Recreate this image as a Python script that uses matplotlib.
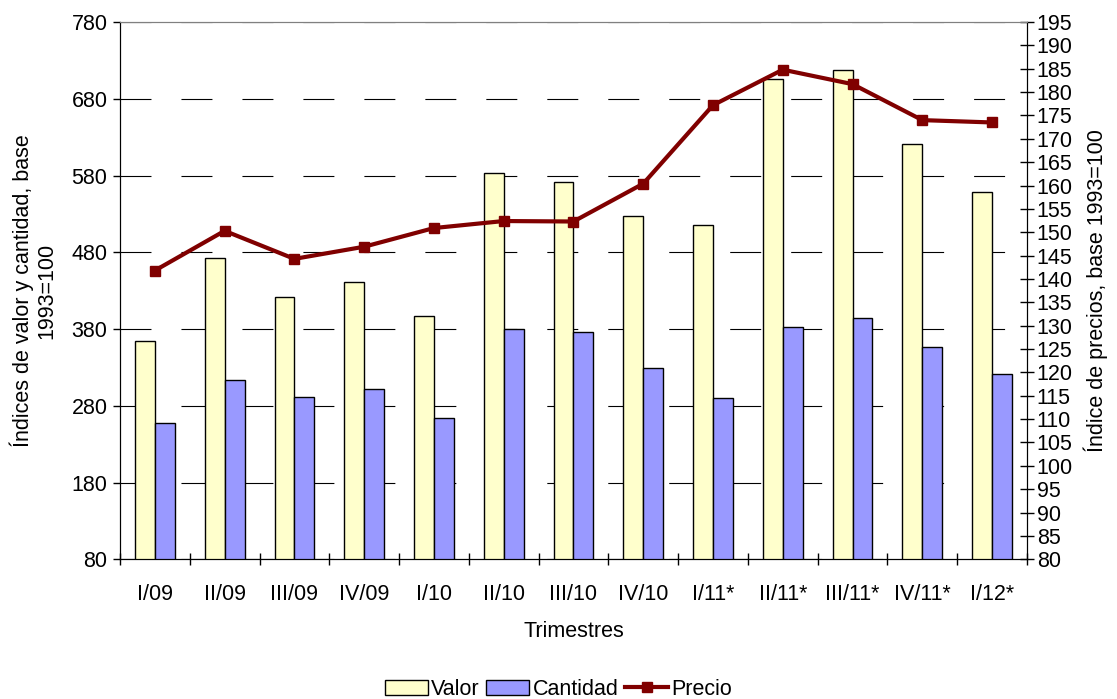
import numpy as np
import matplotlib
matplotlib.use('Agg')
import matplotlib.pyplot as plt
from matplotlib.patches import Patch
from matplotlib.lines import Line2D

plt.rcParams['font.family'] = ['Liberation Sans', 'DejaVu Sans']
plt.rcParams['lines.scale_dashes'] = False

trimestres = ['I/09', 'II/09', 'III/09', 'IV/09', 'I/10', 'II/10', 'III/10',
              'IV/10', 'I/11*', 'II/11*', 'III/11*', 'IV/11*', 'I/12*']
valor = [364, 472, 422, 441, 397, 583, 572, 527, 516, 706, 717, 621, 558]
cantidad = [257, 314, 292, 302, 264, 380, 376, 329, 290, 382, 394, 356, 321]
precio = [141.8, 150.3, 144.3, 146.9, 150.9, 152.4, 152.3, 160.4, 177.2,
          184.8, 181.7, 174.0, 173.5]

fs = 15.5

fig = plt.figure(figsize=(11.17, 6.99), dpi=100)
fig.set_facecolor('w')
ax = fig.add_axes([0.1074, 0.1999, 0.8120, 0.7686])

x = np.arange(len(trimestres))
w = 0.285
ax.bar(x - w / 2, valor, w, color='#FFFFCC', edgecolor='black', linewidth=1.0, zorder=2)
ax.bar(x + w / 2, cantidad, w, color='#9999FF', edgecolor='black', linewidth=1.0, zorder=2)

ax.set_xlim(-0.5, len(trimestres) - 0.5)
ax.set_ylim(80, 780)
ax.set_yticks(np.arange(80, 781, 100))
ax.set_axisbelow(True)
ax.yaxis.grid(True, color='black', linewidth=0.8, linestyle=(0, (22.3, 21.6)))

# category labels in the middle, tick marks on the borders
ax.set_xticks(np.arange(-0.5, len(trimestres)), minor=False)
ax.set_xticklabels([])
ax.set_xticks(x, minor=True)
ax.set_xticklabels(trimestres, minor=True, fontsize=fs)
ax.tick_params(axis='x', which='major', direction='inout', length=9, width=1)
ax.tick_params(axis='x', which='minor', length=0, pad=18)
ax.tick_params(axis='y', direction='out', length=5, width=1, labelsize=fs, pad=4)

ax.spines['top'].set_color('#808080')
ax.set_xlabel('Trimestres', fontsize=fs, labelpad=11)
ax.set_ylabel('Índices de valor y cantidad, base\n1993=100', fontsize=fs, labelpad=10,
              linespacing=1.15)

ax2 = ax.twinx()
ax2.plot(x, precio, color='#800000', linewidth=3, marker='s', markersize=7, zorder=3)
ax2.set_ylim(80, 195)
ax2.set_yticks(np.arange(80, 196, 5))
ax2.tick_params(axis='y', direction='inout', length=10, width=1, labelsize=fs, pad=2)
ax2.spines['top'].set_color('#808080')
ax2.set_ylabel('Índice de precios, base 1993=100', fontsize=fs, labelpad=8)

handles = [Patch(facecolor='#FFFFCC', edgecolor='black', linewidth=1.0),
           Patch(facecolor='#9999FF', edgecolor='black', linewidth=1.0),
           Line2D([], [], color='#800000', linewidth=3, marker='s', markersize=7)]
fig.legend(handles, ['Valor', 'Cantidad', 'Precio'], loc='center',
           bbox_to_anchor=(0.5, 0.014), ncol=3, frameon=False, fontsize=fs,
           handlelength=2.0, handletextpad=0.15, columnspacing=0.3)

fig.savefig('out.png', dpi=100)
